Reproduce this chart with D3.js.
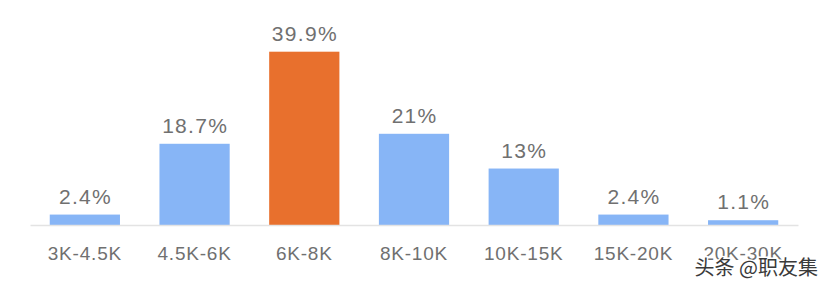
<!DOCTYPE html>
<html><head><meta charset="utf-8">
<script src="https://cdn.jsdelivr.net/npm/d3@7"></script>
<style>body{margin:0;background:#fff}svg{display:block}</style>
</head><body>
<svg id="c" width="828" height="286"></svg>
<script>
const categories = ["3K-4.5K","4.5K-6K","6K-8K","8K-10K","10K-15K","15K-20K","20K-30K"];
const values = [2.4, 18.7, 39.9, 21, 13, 2.4, 1.1];
const valueLabels = ["2.4%","18.7%","39.9%","21%","13%","2.4%","1.1%"];
const highlight = "6K-8K";

const svg = d3.select("#c");
const font = "'Liberation Sans', Arial, Helvetica, sans-serif";
const x = d3.scaleBand().domain(categories).range([30, 798]).paddingInner(0.36).paddingOuter(0.18);
const y = d3.scaleLinear().domain([0, 39.9]).range([225, 51.7]);

svg.selectAll("rect.bar").data(categories).join("rect")
  .attr("class","bar")
  .attr("x", d => x(d)).attr("width", x.bandwidth())
  .attr("y", (d,i) => y(values[i])).attr("height", (d,i) => y(0) - y(values[i]))
  .attr("fill", d => d === highlight ? "#e8702d" : "#87b5f6");

const ax = svg.append("g").attr("transform","translate(0,225)")
  .call(d3.axisBottom(x).tickSize(0).tickPadding(22));
ax.select(".domain").attr("stroke","#e3e3e3").attr("stroke-width",1.5);
ax.selectAll("text").attr("font-family",font).attr("font-size",19)
  .attr("letter-spacing","0.8px").attr("fill","#707070");

svg.selectAll("text.val").data(categories).join("text")
  .attr("class","val")
  .attr("x", d => x(d) + x.bandwidth()/2 + 0.6)
  .attr("y", (d,i) => y(values[i]) - 11)
  .attr("text-anchor","middle")
  .attr("font-family",font).attr("font-size",21).attr("letter-spacing","1.3px").attr("fill","#707070")
  .text((d,i) => valueLabels[i]);

svg.append("text").attr("x",818).attr("y",275).attr("text-anchor","end")
  .attr("font-family","'Noto Sans CJK SC', sans-serif").attr("font-size",20)
  .attr("fill","#3a3a3a").attr("stroke","#fff").attr("stroke-width",3)
  .attr("paint-order","stroke").text("头条 @职友集");
</script>
</body></html>
